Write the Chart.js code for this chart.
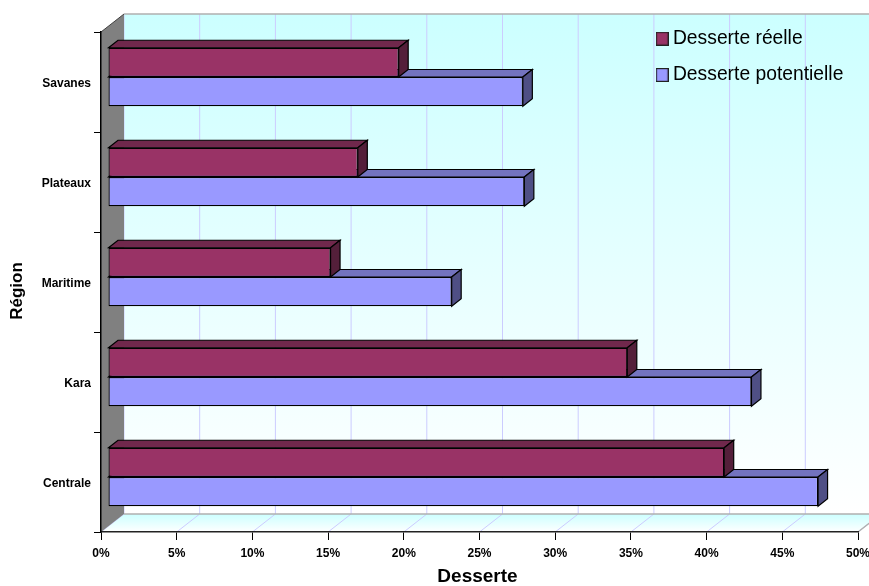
<!DOCTYPE html>
<html>
<head>
<meta charset="utf-8">
<title>Desserte par région</title>
<script src="https://cdn.jsdelivr.net/npm/chart.js@4"></script>
<style>
    html, body { margin: 0; padding: 0; background: #fff; }
    canvas { display: block; }
</style>
</head>
<body>
<canvas id="barChart" width="869" height="586"></canvas>
<script>
// Values in percent, top row first
const regions = ['Savanes', 'Plateaux', 'Maritime', 'Kara', 'Centrale'];
const desserteReelle = [19.2, 16.5, 14.7, 34.3, 40.7];
const dessertePotentielle = [27.4, 27.5, 22.7, 42.5, 46.9];

const FONT = '"Liberation Sans", Arial, sans-serif';

// Depth of the back wall and of the bars, in pixels
const WALL_DX = 23, WALL_DY = -18;
const BAR_DX = 9.5, BAR_DY = -7.5;
const BAR_SHIFT_X = 7, BAR_SHIFT_Y = -5;

function poly(ctx, pts, fill, stroke, width) {
    ctx.beginPath();
    pts.forEach((p, i) => i ? ctx.lineTo(p[0], p[1]) : ctx.moveTo(p[0], p[1]));
    ctx.closePath();
    if (fill) { ctx.fillStyle = fill; ctx.fill(); }
    if (stroke) { ctx.strokeStyle = stroke; ctx.lineWidth = width || 1; ctx.stroke(); }
}

// Small bordered square used as legend swatch
function swatch(color) {
    const c = document.createElement('canvas');
    c.width = 13;
    c.height = 14;
    const g = c.getContext('2d');
    g.fillStyle = color;
    g.fillRect(0, 0, 13, 14);
    g.strokeStyle = '#222';
    g.lineWidth = 1.2;
    g.strokeRect(0.6, 0.6, 11.8, 12.8);
    return c;
}

// Walls and floor of the 3D box, behind everything else
const boxPlugin = {
    id: 'box3d',
    beforeDraw(chart) {
        const ctx = chart.ctx;
        const { left, right, top, bottom } = chart.chartArea;
        const x = chart.scales.x;
        const bx = left + WALL_DX, bTop = top + WALL_DY, bBottom = bottom + WALL_DY;

        ctx.save();
        const wall = ctx.createLinearGradient(0, bTop, 0, bBottom);
        wall.addColorStop(0, '#CCFFFF');
        wall.addColorStop(1, '#FFFFFF');
        ctx.fillStyle = wall;
        ctx.fillRect(bx, bTop, right + WALL_DX - bx, bBottom - bTop);

        const floor = ctx.createLinearGradient(0, bBottom, 0, bottom);
        floor.addColorStop(0, '#CCFFFF');
        floor.addColorStop(1, '#FFFFFF');
        poly(ctx, [[left, bottom], [bx, bBottom], [right + WALL_DX, bBottom], [right, bottom]], floor);

        // Vertical grid lines on the wall, continuing across the floor
        x.ticks.forEach(t => {
            const px = x.getPixelForValue(t.value);
            ctx.beginPath();
            ctx.moveTo(px, bottom);
            ctx.lineTo(px + WALL_DX, bBottom);
            ctx.lineTo(px + WALL_DX, bTop);
            ctx.strokeStyle = '#CCCCFF';
            ctx.lineWidth = 1;
            ctx.stroke();
        });

        ctx.strokeStyle = '#B0B0B0';
        ctx.lineWidth = 1.5;
        ctx.beginPath();
        ctx.moveTo(bx, bTop);
        ctx.lineTo(right + WALL_DX, bTop);
        ctx.moveTo(bx, bBottom);
        ctx.lineTo(right + WALL_DX, bBottom);
        ctx.lineTo(right, bottom);
        ctx.stroke();

        poly(ctx, [[left, top], [bx, bTop], [bx, bBottom], [left, bottom]], '#808080');
        ctx.beginPath();
        ctx.moveTo(left, top);
        ctx.lineTo(bx, bTop);
        ctx.strokeStyle = '#404040';
        ctx.lineWidth = 1;
        ctx.stroke();
        ctx.restore();
    },
    // Top and end faces, then shift the flat bars in front of them
    beforeDatasetDraw(chart, args) {
        const ctx = chart.ctx;
        const ds = chart.data.datasets[args.index];
        ctx.save();
        ctx.translate(BAR_SHIFT_X, BAR_SHIFT_Y);
        args.meta.data.forEach(bar => {
            const x0 = bar.base, x1 = bar.x;
            const y0 = bar.y - bar.height / 2, y1 = bar.y + bar.height / 2;
            poly(ctx, [[x0, y0], [x0 + BAR_DX, y0 + BAR_DY], [x1 + BAR_DX, y0 + BAR_DY], [x1, y0]],
                ds.topColor, '#000', 1.2);
            poly(ctx, [[x1, y0], [x1 + BAR_DX, y0 + BAR_DY], [x1 + BAR_DX, y1 + BAR_DY], [x1, y1]],
                ds.sideColor, '#000', 1.2);
        });
    },
    afterDatasetDraw(chart) {
        chart.ctx.restore();
    },
    // Legend sits inside the plot, top right
    afterLayout(chart) {
        const legend = chart.legend;
        const w = legend.width, h = legend.height;
        legend.left = 644;
        legend.top = 12;
        legend.right = legend.left + w;
        legend.bottom = legend.top + h;
        legend.adjustHitBoxes();
    }
};

// Pin an axis to a fixed thickness, and allow its title to be nudged along the axis
function fixAxis(scale, size, shiftX, shiftY) {
    if (scale.axis === 'x') { scale.height = size; } else { scale.width = size; }
    scale.paddingLeft = scale.paddingRight = scale.paddingTop = scale.paddingBottom = 0;
    if (!scale._titleWrapped) {
        const drawTitle = scale.drawTitle;
        scale.drawTitle = function () {
            this.ctx.save();
            this.ctx.translate(shiftX, shiftY);
            drawTitle.call(this);
            this.ctx.restore();
        };
        scale._titleWrapped = true;
    }
}

new Chart(document.getElementById('barChart').getContext('2d'), {
    type: 'bar',
    plugins: [boxPlugin],
    data: {
        labels: regions,
        datasets: [
            {
                label: 'Desserte réelle',
                data: desserteReelle,
                backgroundColor: '#993366',
                topColor: '#70284C',
                sideColor: '#541F3A',
                borderColor: '#000000',
                borderWidth: 1.2,
                borderSkipped: false
            },
            {
                label: 'Desserte potentielle',
                data: dessertePotentielle,
                backgroundColor: '#9999FF',
                topColor: '#7373BF',
                sideColor: '#4F4F85',
                borderColor: '#000000',
                borderWidth: 1.2,
                borderSkipped: false
            }
        ]
    },
    options: {
        indexAxis: 'y',
        responsive: false,
        animation: false,
        events: [],
        layout: { padding: { left: 0, top: 32, right: 11, bottom: 0 } },
        datasets: { bar: { categoryPercentage: 0.585, barPercentage: 1 } },
        scales: {
            x: {
                type: 'linear',
                min: 0,
                max: 50,
                afterFit: s => fixAxis(s, 54, -2, 2),
                grid: { drawOnChartArea: false, drawTicks: true, tickLength: 8, color: '#000' },
                border: { color: '#222', width: 1.5 },
                ticks: {
                    stepSize: 5,
                    maxRotation: 0,
                    autoSkip: false,
                    padding: 6,
                    color: '#000',
                    font: { family: FONT, size: 12, weight: 'bold' },
                    callback: v => v + '%'
                },
                title: {
                    display: true,
                    text: 'Desserte',
                    color: '#000',
                    padding: 0,
                    font: { family: FONT, size: 19, weight: 'bold' }
                }
            },
            y: {
                type: 'category',
                afterFit: s => fixAxis(s, 101, 2, 9),
                grid: { offset: true, drawOnChartArea: false, drawTicks: true, tickLength: 7, color: '#000' },
                border: { color: '#000', width: 1.5 },
                ticks: {
                    padding: 3,
                    labelOffset: 1.5,
                    color: '#000',
                    font: { family: FONT, size: 12, weight: 'bold' }
                },
                title: {
                    display: true,
                    text: 'Région',
                    color: '#000',
                    padding: { top: 5, bottom: 0 },
                    font: { family: FONT, size: 17, weight: 'bold' }
                }
            }
        },
        plugins: {
            tooltip: { enabled: false },
            legend: {
                display: true,
                position: 'chartArea',
                align: 'start',
                labels: {
                    // A narrow layout box keeps the text close to the swatch
                    usePointStyle: true,
                    pointStyleWidth: 2.3,
                    boxHeight: 12,
                    padding: 17,
                    color: '#000',
                    font: { family: FONT, size: 19.3 },
                    generateLabels: chart =>
                        Chart.defaults.plugins.legend.labels.generateLabels(chart).map((item, i) => {
                            item.pointStyle = swatch(chart.data.datasets[i].backgroundColor);
                            return item;
                        })
                }
            }
        }
    }
});
</script>
</body>
</html>
